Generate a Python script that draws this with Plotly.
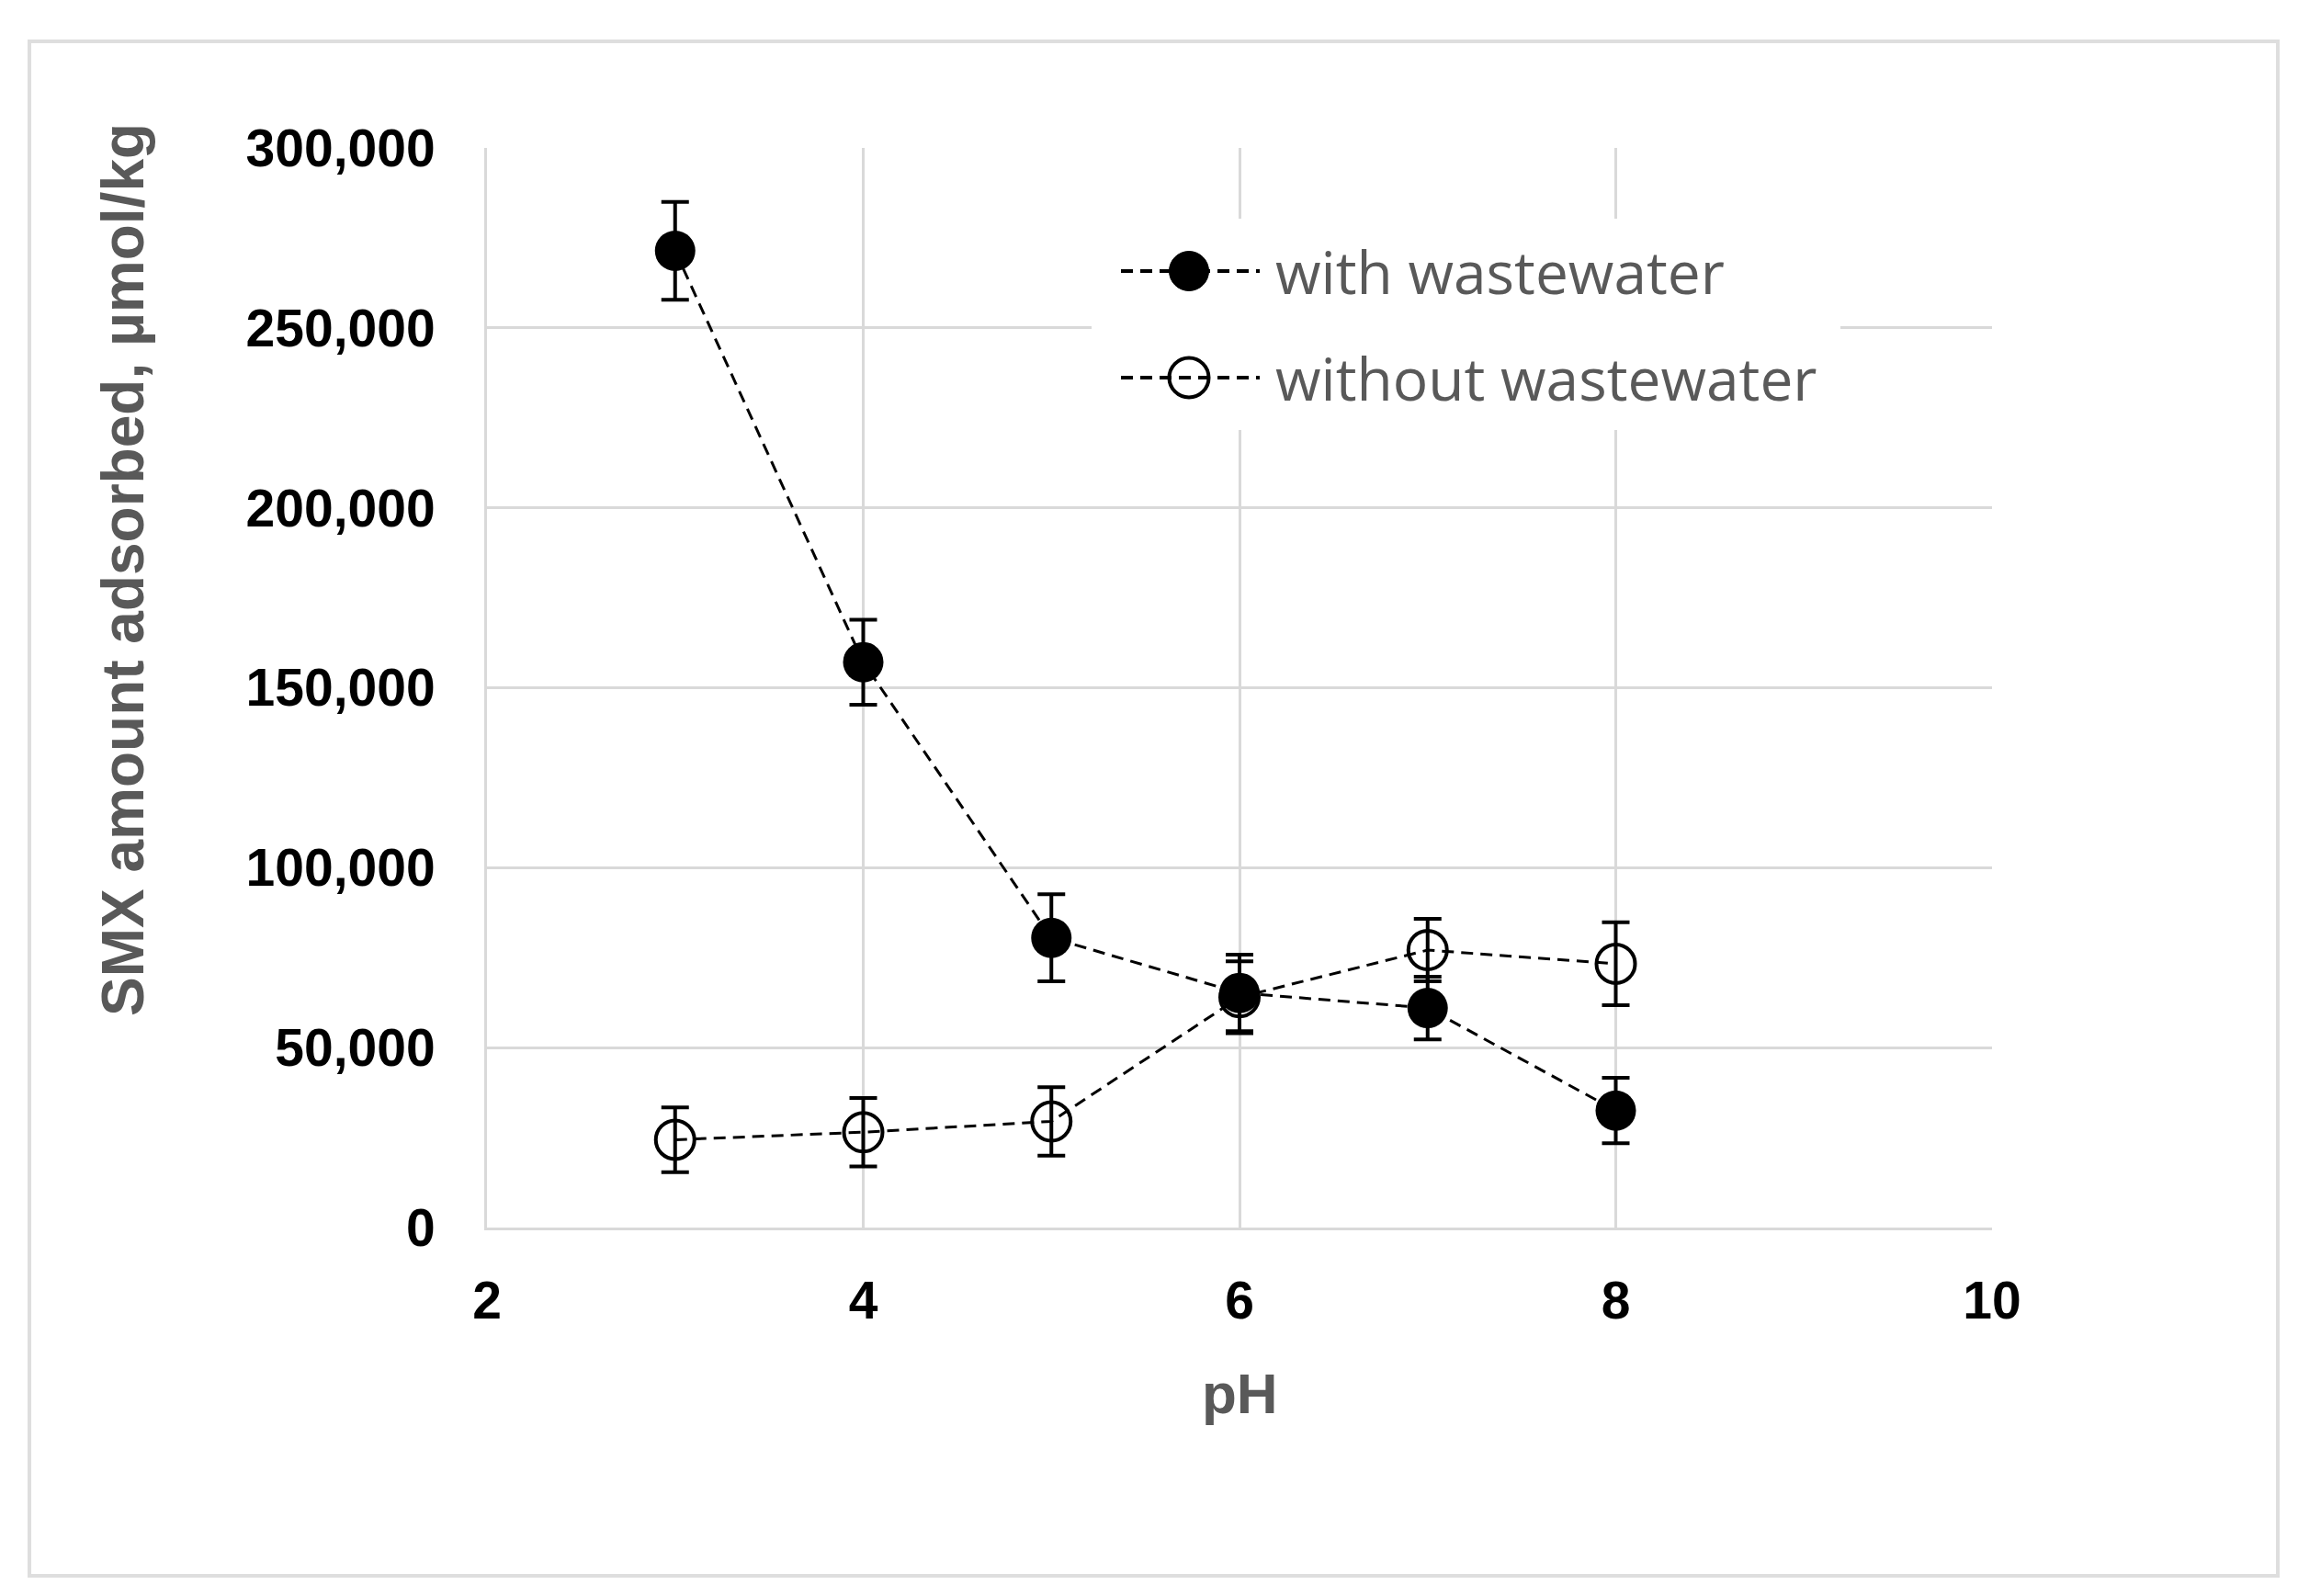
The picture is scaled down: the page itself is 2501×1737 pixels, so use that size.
import plotly.graph_objects as go

# ---- data ----
ph = [3, 4, 5, 6, 7, 8]
with_ww = [271400, 157100, 80500, 65200, 61000, 32500]
with_ww_err = [13600, 11800, 12100, 10600, 8700, 9100]
without_ww = [24400, 26500, 29500, 64000, 77100, 73300]
without_ww_err = [9000, 9500, 9500, 10000, 8700, 11500]
series_names = ["with wastewater", "without wastewater"]
x_ticks = [2, 4, 6, 8, 10]
y_ticks = [0, 50000, 100000, 150000, 200000, 250000, 300000]
y_tick_text = ["0", "50,000", "100,000", "150,000", "200,000", "250,000", "300,000"]

W, H = 2501, 1737
L, R, T, B = 522, 2160, 153, 1328
pw, ph_ = R - L, B - T


def px(X):
    return (X - L) / pw


def py(Y):
    return (B - Y) / ph_


GRID = "#d9d9d9"
TXT_GREY = "#595959"
DASH = "13px,8px"

fig = go.Figure()

fig.add_trace(go.Scatter(
    x=ph, y=with_ww, name=series_names[0], mode="lines+markers",
    line=dict(color="black", width=3, dash=DASH),
    marker=dict(symbol="circle", size=44, color="black"),
    error_y=dict(type="data", array=with_ww_err, visible=True,
                 color="black", thickness=4, width=15),
    showlegend=False,
))
fig.add_trace(go.Scatter(
    x=ph, y=without_ww, name=series_names[1], mode="lines+markers",
    line=dict(color="black", width=3, dash=DASH),
    marker=dict(symbol="circle-open", size=42, color="black",
                line=dict(width=4, color="black")),
    error_y=dict(type="data", array=without_ww_err, visible=True,
                 color="black", thickness=4, width=15),
    showlegend=False,
))

tick_font = dict(family="Liberation Sans, Arial, sans-serif", size=57,
                 color="black", weight="bold")

fig.update_xaxes(
    range=[2, 10], tickvals=x_ticks, ticktext=[str(v) for v in x_ticks],
    showgrid=True, gridcolor=GRID, gridwidth=3,
    showline=True, linecolor=GRID, linewidth=3,
    zeroline=False, ticks="", tickfont=tick_font, ticklabelstandoff=28,
)
fig.update_yaxes(
    range=[0, 300000], tickvals=y_ticks, ticktext=y_tick_text,
    showgrid=True, gridcolor=GRID, gridwidth=3,
    showline=True, linecolor=GRID, linewidth=3,
    zeroline=False, ticks="", tickfont=tick_font, ticklabelstandoff=42,
)

shapes = []
# outer border
shapes.append(dict(type="rect", xref="paper", yref="paper",
                   x0=px(24), x1=px(2471), y0=py(1707), y1=py(37),
                   line=dict(color="#dedede", width=4), fillcolor="rgba(0,0,0,0)",
                   layer="below"))
# legend box
shapes.append(dict(type="rect", xref="paper", yref="paper",
                   x0=px(1180), x1=px(1995), y0=py(460), y1=py(230),
                   line=dict(width=0), fillcolor="white", layer="above"))
leg_rows = [287, 403]
for i, Y in enumerate(leg_rows):
    shapes.append(dict(type="line", xref="paper", yref="paper",
                       x0=px(1212), x1=px(1363), y0=py(Y), y1=py(Y),
                       line=dict(color="black", width=4, dash=DASH), layer="above"))
    filled = (i == 0)
    shapes.append(dict(type="circle", xref="paper", yref="paper",
                       xsizemode="pixel", ysizemode="pixel",
                       xanchor=px(1286), yanchor=py(Y),
                       x0=-21.5, x1=21.5, y0=-21.5, y1=21.5,
                       line=dict(color="black", width=4 if not filled else 1),
                       fillcolor="black" if filled else "rgba(0,0,0,0)",
                       layer="above"))

annotations = []
for i, Y in enumerate(leg_rows):
    annotations.append(dict(text=series_names[i], xref="paper", yref="paper",
                            x=px(1378), y=py(Y), xanchor="left", yanchor="middle",
                            showarrow=False,
                            font=dict(family="Open Sans, Noto Sans, sans-serif",
                                      size=64, color=TXT_GREY)))
annotations.append(dict(text="<b>SMX amount adsorbed, µmol/kg</b>", xref="paper", yref="paper",
                        x=px(126), y=py(612), xanchor="center", yanchor="middle",
                        textangle=-90, showarrow=False,
                        font=dict(family="Liberation Sans, Arial, sans-serif",
                                  size=64, color=TXT_GREY)))
annotations.append(dict(text="<b>pH</b>", xref="paper", yref="paper",
                        x=px(1341), y=py(1508), xanchor="center", yanchor="middle",
                        showarrow=False,
                        font=dict(family="Liberation Sans, Arial, sans-serif",
                                  size=62, color=TXT_GREY)))

fig.update_layout(
    width=W, height=H,
    margin=dict(l=L, r=W - R, t=T, b=H - B),
    paper_bgcolor="white", plot_bgcolor="white",
    shapes=shapes, annotations=annotations,
    showlegend=False,
)

fig.write_html("out.html")
